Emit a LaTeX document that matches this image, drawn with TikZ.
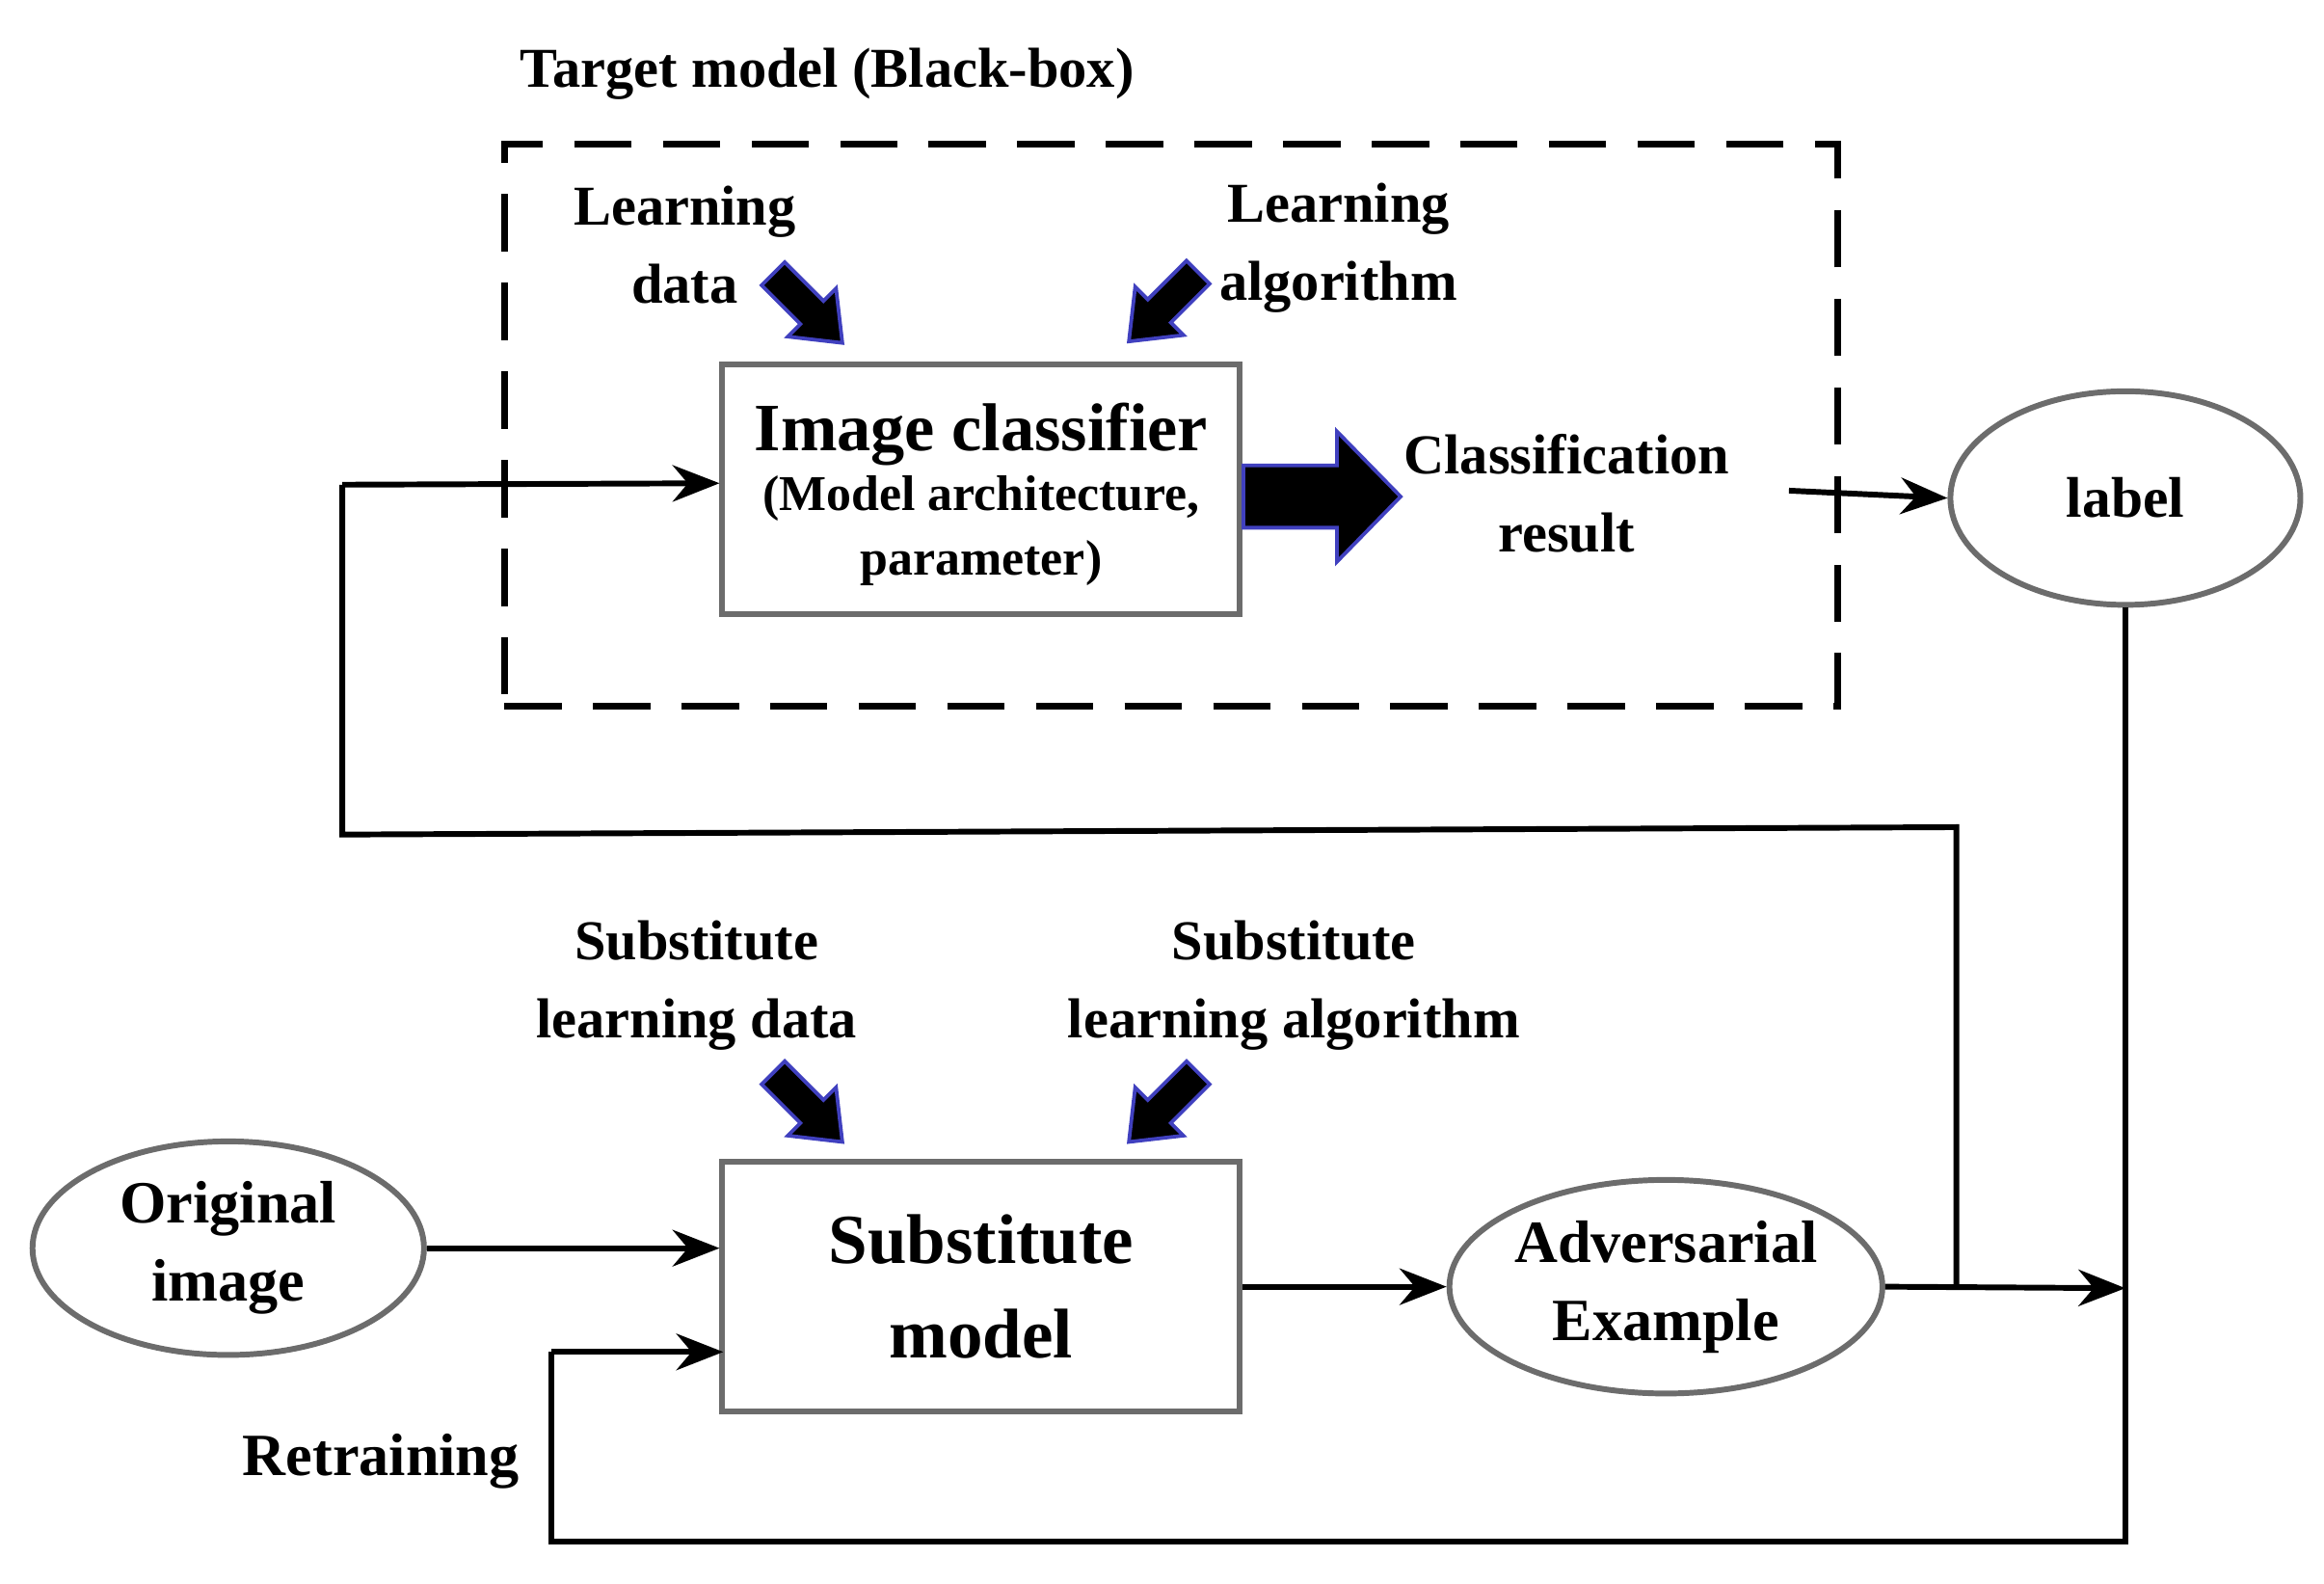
\documentclass[tikz,border=0pt]{standalone}
\usepackage{fontspec}
\setmainfont{Liberation Serif}
\usetikzlibrary{shapes.geometric,arrows.meta}
\begin{document}
\begin{tikzpicture}[x=0.01cm,y=-0.01cm,
  lbl/.style={font=\bfseries\fontsize{10.8}{15}\selectfont,align=center},
  box/.style={draw=gray!85!black,line width=1.1pt,minimum width=3.49cm,minimum height=1.68cm},
  ell/.style={draw=gray!85!black,ellipse,line width=1.1pt,inner sep=0pt},
  con/.style={line width=1.1pt},
  arr/.style={con,-{Stealth[length=9pt,width=7pt]}},
  blk/.style={fill=black,draw=blue!50!gray,line width=0.7pt,line join=miter}]
\useasboundingbox (0,0) rectangle (1568,1068);
\node[lbl] (title) at (558,50) {Target model (Black-box)};
\node[draw,line width=1.3pt,dash pattern=on 11pt off 6pt,minimum width=8.99cm,minimum height=3.79cm,anchor=north west] (bb) at (338,95) {};
\node[lbl] (ld) at (462,165) {Learning\\data};
\node[lbl] (la) at (903,167) {Learning\\algorithm};
\foreach \p/\r in {{545,208}/-45,{785,207}/-135,{545,747}/-45,{785,747}/-135}{
  \begin{scope}[shift={(\p)},rotate=\r]
    \draw[blk] (-33,-11) -- (4,-11) -- (4,-23) -- (33,0) -- (4,23) -- (4,11) -- (-33,11) -- cycle;
  \end{scope}}
\node[box] (ic) at (662,330) {};
\node[font=\bfseries\fontsize{13}{16}\selectfont] (ict) at (662,293) {Image classifier};
\node[font=\bfseries\fontsize{9.6}{12.5}\selectfont,align=center] (ics) at (662,358) {(Model architecture,\\parameter)};
\draw[blk] (839,314) -- (902,314) -- (902,291) -- (945,335) -- (902,379) -- (902,356) -- (839,356) -- cycle;
\node[lbl] (cr) at (1057,333) {Classification\\result};
\node[ell,minimum width=2.36cm,minimum height=1.44cm,font=\bfseries\fontsize{11}{14}\selectfont] (label) at (1434,336) {label};
\coordinate (crout) at (1207,331);
\draw[arr] (crout) -- (label.west);
\node[lbl] (sld) at (470,665) {Substitute\\learning data};
\node[lbl] (sla) at (873,665) {Substitute\\learning algorithm};
\node[box,font=\bfseries\fontsize{13.5}{18}\selectfont,align=center] (sm) at (662,868) {Substitute\\model};
\node[ell,minimum width=2.64cm,minimum height=1.44cm,font=\bfseries\fontsize{11.5}{15}\selectfont,align=center] (oi) at (154,842) {Original\\image};
\node[ell,minimum width=2.92cm,minimum height=1.44cm,font=\bfseries\fontsize{11.5}{15}\selectfont,align=center] (ae) at (1124,868) {Adversarial\\Example};
\node[font=\bfseries\fontsize{11.5}{15}\selectfont] (rt) at (257,986) {Retraining};
\coordinate (j) at (1434,869);
\draw[arr] (oi.east) -- (oi.east -| sm.west);
\draw[arr] (sm.east |- ae) -- (ae.west);
\draw[arr] (ae.east) -- (j);
\draw[con] (label.south) -- (1434,1040) -- (372,1040) -- (372,912);
\draw[arr] (372,912) -- (488,912);
\draw[con] (1320,869) -- (1320,558) -- (231,563) -- (231,327);
\draw[arr] (231,327) -- (ic.west |- 0,326);
\end{tikzpicture}
\end{document}
